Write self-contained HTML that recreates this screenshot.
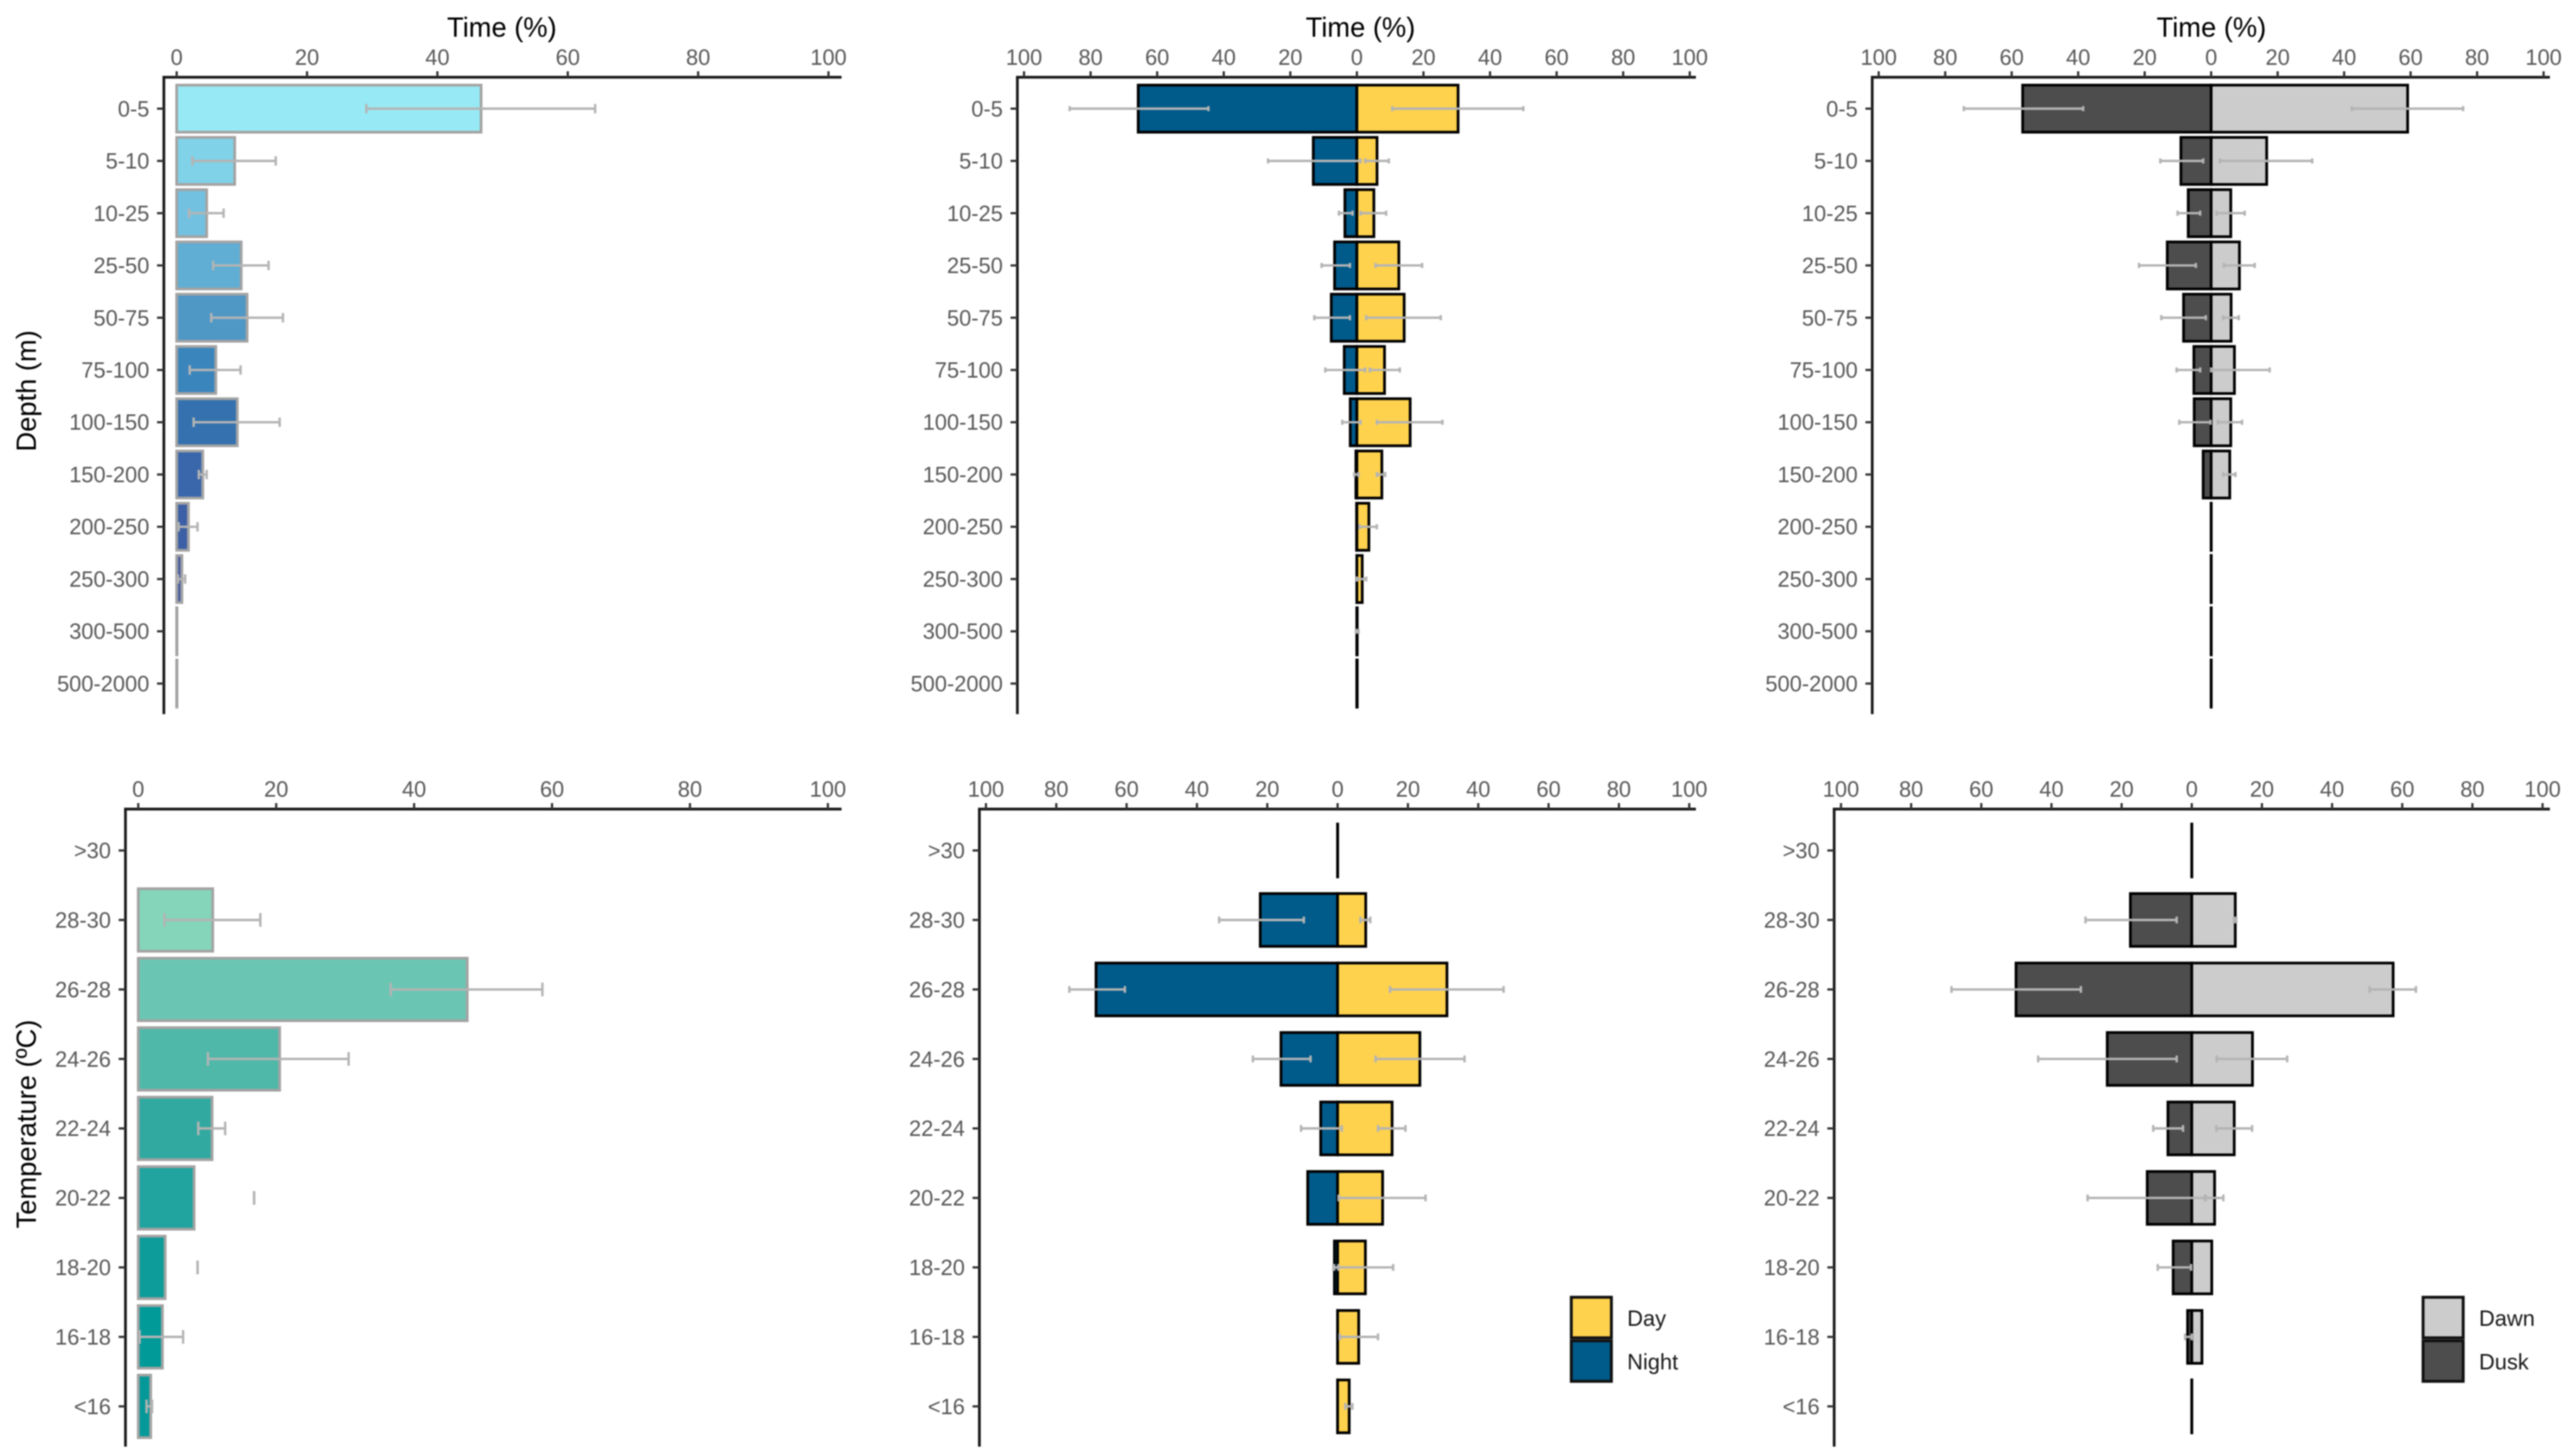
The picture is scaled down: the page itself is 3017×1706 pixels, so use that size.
<!DOCTYPE html>
<html lang="en">
<head>
<meta charset="utf-8">
<title>Time at depth and temperature</title>
<style>
  html, body { margin: 0; padding: 0; background: #ffffff; }
  #figure { display: block; width: 3017px; height: 1706px; filter: blur(0.7px); font-family: "Liberation Sans", Arial, sans-serif; }
</style>
</head>
<body>
<svg id="figure" xmlns="http://www.w3.org/2000/svg" width="3017" height="1706" viewBox="0 0 3017 1706"></svg>
<script>
// ---------- categories and tick labels ----------
const depthCategories = ['0-5','5-10','10-25','25-50','50-75','75-100','100-150','150-200','200-250','250-300','300-500','500-2000'];
const tempCategories = ['>30','28-30','26-28','24-26','22-24','20-22','18-20','16-18','<16'];
const oneSidedTicks = [0,20,40,60,80,100];
const twoSidedTicks = [-100,-80,-60,-40,-20,0,20,40,60,80,100];

// ---------- depth: overall ----------
const depthAll = [46.7,8.9,4.6,9.9,10.8,6.0,9.3,4.0,1.8,0.8,0.05,0.05];
const depthAllLow = [29.1,2.4,1.9,5.6,5.3,2.0,2.6,3.4,0.3,0.2,null,null];
const depthAllHigh = [64.2,15.2,7.2,14.1,16.3,9.8,15.8,4.6,3.2,1.3,null,null];
const depthAllColors = ['#97EAF5','#80D2E8','#73C1E0','#60AED3','#4F98C6','#3A85BC','#3471AE','#3A67AB','#3D5FA5','#4A5FA0','#A0A0A0','#A0A0A0'];

// ---------- depth: day / night ----------
const depthNight = [65.7,13.1,3.6,6.7,7.7,3.8,2.0,0.3,0.1,0,0,0];
const depthNightLow = [44.6,-1.1,1.3,2.1,2.1,-2.5,-1.1,-0.5,null,null,null,null];
const depthNightHigh = [86.3,26.7,5.4,10.6,12.8,9.5,4.4,0.8,null,null,null,null];
const depthDay = [30.4,6.05,5.1,12.6,14.2,8.3,16.0,7.5,3.6,1.6,0.1,0.1];
const depthDayLow = [10.6,2.5,1.1,5.6,2.8,3.9,6.0,6.0,0.8,0,-0.3,null];
const depthDayHigh = [50.0,9.6,8.8,19.6,25.2,12.9,25.7,8.5,6.0,2.8,0.5,null];

// ---------- depth: dawn / dusk ----------
const depthDusk = [56.7,9.1,6.9,13.2,8.3,5.2,5.1,2.4,0,0,0,0];
const depthDuskLow = [38.5,2.4,3.3,4.6,1.6,3.3,0.2,null,null,null,null,null];
const depthDuskHigh = [74.4,15.3,10.1,21.7,15.0,10.4,9.6,null,null,null,null,null];
const depthDawn = [59.1,16.7,5.9,8.5,6.0,7.0,5.9,5.6,0,0,0,0];
const depthDawnLow = [42.3,2.6,1.6,3.8,3.6,0,2.0,3.6,null,null,null,null];
const depthDawnHigh = [75.8,30.4,10.1,13.1,8.3,17.6,9.3,7.3,null,null,null,null];

// ---------- temperature: overall ----------
const tempAll = [null,10.8,47.7,20.5,10.7,8.1,3.9,3.5,1.8];
const tempAllLow = [null,3.8,36.6,10.1,8.7,16.8,8.6,0.2,1.2];
const tempAllHigh = [null,17.7,58.6,30.5,12.6,16.8,8.6,6.5,2.0];
const tempAllColors = ['#A0A0A0','#84D5BA','#6AC6B2','#4FB8A9','#31A9A0','#21A39F','#0E9C9A','#019A98','#059898'];

// ---------- temperature: day / night ----------
const tempNight = [0,22.0,68.7,16.1,4.8,8.5,0.9,0,0];
const tempNightLow = [null,9.6,60.5,7.7,-1.2,null,-0.2,null,null];
const tempNightHigh = [null,33.7,76.3,24.1,10.4,null,1.2,null,null];
const tempDay = [0,8.0,31.1,23.4,15.5,12.8,7.9,6.0,3.3];
const tempDayLow = [null,6.5,14.9,10.8,11.5,0.3,-1.0,0.6,2.2];
const tempDayHigh = [null,9.3,47.2,36.1,19.3,25.0,15.8,11.5,4.2];

// ---------- temperature: dawn / dusk ----------
const tempDusk = [0,17.5,50.1,24.1,6.8,12.7,5.3,1.2,0];
const tempDuskLow = [null,4.3,31.6,4.3,2.5,-4.0,0.2,0,null];
const tempDuskHigh = [null,30.3,68.5,43.8,11.0,29.7,9.7,1.9,null];
const tempDawn = [0,12.4,57.4,17.3,12.1,6.5,5.7,2.9,0];
const tempDawnLow = [null,12.0,50.7,7.1,7.0,3.7,null,null,null];
const tempDawnHigh = [null,12.7,63.9,27.2,17.2,9.0,null,null,null];

// ---------- series names and colours ----------
const dayColor = '#FFD24D';
const nightColor = '#005A8A';
const dawnColor = '#CCCCCC';
const duskColor = '#4D4D4D';

const svg = document.getElementById('figure');
const NS = 'http://www.w3.org/2000/svg';

function make(tag, attrs, parent, text) {
  const el = document.createElementNS(NS, tag);
  for (const k in attrs) el.setAttribute(k, attrs[k]);
  if (text !== undefined) el.textContent = text;
  (parent || svg).appendChild(el);
  return el;
}

function slug(s) {
  return s.replace('>', 'over-').replace('<', 'under-').toLowerCase();
}

function drawFrame(p) {
  const g = make('g', {});
  
  
  p.g = g;

  // scales
  p.x = function (v) { return p.zeroX + v * p.pxPerUnit; };
  p.y = function (i) { return p.firstY + i * p.stepY; };

  const top = make('line', { x1: p.axisX - 1.6, x2: p.axisEnd, y1: p.axisY, y2: p.axisY, stroke: '#1a1a1a', 'stroke-width': 3.2 }, g);
  
  

  const left = make('line', { x1: p.axisX, x2: p.axisX, y1: p.axisY, y2: p.axisBottom, stroke: '#1a1a1a', 'stroke-width': 3.2 }, g);
  
  

  p.ticks.forEach(function (t) {
    const tick = make('line', { x1: p.x(t), x2: p.x(t), y1: p.axisY - 7, y2: p.axisY, stroke: '#333333', 'stroke-width': 2.6 }, g);
    
    
    const label = make('text', { x: p.x(t), y: p.axisY - 14.5, 'text-anchor': 'middle', 'font-size': 25.6, fill: '#595959' }, g, String(Math.abs(t)));
    
    
  });

  p.categories.forEach(function (c, i) {
    const tick = make('line', { x1: p.axisX - 8, x2: p.axisX, y1: p.y(i), y2: p.y(i), stroke: '#333333', 'stroke-width': 2.6 }, g);
    
    
    const label = make('text', { x: p.axisX - 17, y: p.y(i) + 9, 'text-anchor': 'end', 'font-size': 25.6, fill: '#595959' }, g, c);
    
    
  });

  if (p.title) {
    const title = make('text', { x: p.titleX, y: 43, 'text-anchor': 'middle', 'font-size': 32, fill: '#000000' }, g, p.title);
    
    
  }
  if (p.yTitle) {
    const yTitle = make('text', { x: 0, y: 0, 'text-anchor': 'middle', 'font-size': 32, fill: '#000000', transform: 'translate(' + p.yTitleX + ',' + p.yTitleY + ') rotate(-90)' }, g, p.yTitle);
    
    
  }
}

function drawBars(p, values, sign, fills, stroke, seriesName) {
  const h = p.stepY * p.barFrac;
  values.forEach(function (v, i) {
    if (v === null) return;
    const x1 = p.x(0);
    const x2 = p.x(sign * v);
    const fill = Array.isArray(fills) ? fills[i] : fills;
    const bar = make('rect', {
      x: Math.min(x1, x2), y: p.y(i) - h / 2,
      width: Math.max(Math.abs(x2 - x1), 0.01), height: h,
      fill: fill, stroke: stroke, 'stroke-width': 3.2
    }, p.g);
    
    
  });
}

function drawErrors(p, low, high, sign, seriesName) {
  low.forEach(function (lo, i) {
    const hi = high[i];
    if (lo === null || hi === null) return;
    const xa = p.x(sign * lo);
    const xb = p.x(sign * hi);
    const y = p.y(i);
    const g = make('g', { stroke: '#B4B4B4', 'stroke-width': 2.8, fill: 'none' }, p.g);
    
    
    make('line', { x1: xa, x2: xb, y1: y, y2: y }, g);
    make('line', { x1: xa, x2: xa, y1: y - p.cap / 2, y2: y + p.cap / 2 }, g);
    make('line', { x1: xb, x2: xb, y1: y - p.cap / 2, y2: y + p.cap / 2 }, g);
  });
}

function drawLegend(p, items) {
  const g = make('g', {}, p.g);
  
  
  items.forEach(function (it, i) {
    const y = 1520 + i * 51;
    const key = make('rect', { x: p.legendX + 1, y: y, width: 47, height: 47.5, fill: it.color, stroke: '#111111', 'stroke-width': 3.4 }, g);
    
    
    const label = make('text', { x: p.legendX + 66.5, y: y + 33.4, 'font-size': 25.6, fill: '#1a1a1a' }, g, it.label);
    
    
  });
}

// ---------- panel layout ----------
const depthRow = { categories: depthCategories, firstY: 127.3, stepY: 61.24, axisY: 90.5, axisBottom: 836.7, barFrac: 0.9 };
const tempRow = { categories: tempCategories, firstY: 996.5, stepY: 81.42, axisY: 948, axisBottom: 1695, barFrac: 0.9 };

const p1 = Object.assign({}, depthRow, { name: 'depth-overall', ticks: oneSidedTicks, zeroX: 207, pxPerUnit: 7.637, axisX: 192, axisEnd: 986, cap: 11, title: 'Time (%)', titleX: 588, yTitle: 'Depth (m)', yTitleX: 42, yTitleY: 458 });
const p2 = Object.assign({}, depthRow, { name: 'depth-day-night', ticks: twoSidedTicks, zeroX: 1589.8, pxPerUnit: 3.9, axisX: 1192, axisEnd: 1987, cap: 6, title: 'Time (%)', titleX: 1594 });
const p3 = Object.assign({}, depthRow, { name: 'depth-dawn-dusk', ticks: twoSidedTicks, zeroX: 2590.7, pxPerUnit: 3.895, axisX: 2193.6, axisEnd: 2987.6, cap: 6, title: 'Time (%)', titleX: 2591 });
const p4 = Object.assign({}, tempRow, { name: 'temperature-overall', ticks: oneSidedTicks, zeroX: 162, pxPerUnit: 8.08, axisX: 147, axisEnd: 986, cap: 16, yTitle: 'Temperature (ºC)', yTitleX: 42, yTitleY: 1317 });
const p5 = Object.assign({}, tempRow, { name: 'temperature-day-night', ticks: twoSidedTicks, zeroX: 1567.2, pxPerUnit: 4.12, axisX: 1147.5, axisEnd: 1987, cap: 8, legendX: 1840, barFrac: 0.76 });
const p6 = Object.assign({}, tempRow, { name: 'temperature-dawn-dusk', ticks: twoSidedTicks, zeroX: 2568, pxPerUnit: 4.11, axisX: 2149, axisEnd: 2987.6, cap: 8, legendX: 2838, barFrac: 0.76 });

// ---------- draw panels ----------
drawFrame(p1);
drawBars(p1, depthAll, 1, depthAllColors, '#A3A3A3', 'time');
drawErrors(p1, depthAllLow, depthAllHigh, 1, 'time');

drawFrame(p2);
drawBars(p2, depthNight, -1, nightColor, '#000000', 'night');
drawBars(p2, depthDay, 1, dayColor, '#000000', 'day');
drawErrors(p2, depthNightLow, depthNightHigh, -1, 'night');
drawErrors(p2, depthDayLow, depthDayHigh, 1, 'day');

drawFrame(p3);
drawBars(p3, depthDusk, -1, duskColor, '#000000', 'dusk');
drawBars(p3, depthDawn, 1, dawnColor, '#000000', 'dawn');
drawErrors(p3, depthDuskLow, depthDuskHigh, -1, 'dusk');
drawErrors(p3, depthDawnLow, depthDawnHigh, 1, 'dawn');

drawFrame(p4);
drawBars(p4, tempAll, 1, tempAllColors, '#A3A3A3', 'time');
drawErrors(p4, tempAllLow, tempAllHigh, 1, 'time');

drawFrame(p5);
drawBars(p5, tempNight, -1, nightColor, '#000000', 'night');
drawBars(p5, tempDay, 1, dayColor, '#000000', 'day');
drawErrors(p5, tempNightLow, tempNightHigh, -1, 'night');
drawErrors(p5, tempDayLow, tempDayHigh, 1, 'day');
drawLegend(p5, [{ label: 'Day', color: dayColor }, { label: 'Night', color: nightColor }]);

drawFrame(p6);
drawBars(p6, tempDusk, -1, duskColor, '#000000', 'dusk');
drawBars(p6, tempDawn, 1, dawnColor, '#000000', 'dawn');
drawErrors(p6, tempDuskLow, tempDuskHigh, -1, 'dusk');
drawErrors(p6, tempDawnLow, tempDawnHigh, 1, 'dawn');
drawLegend(p6, [{ label: 'Dawn', color: dawnColor }, { label: 'Dusk', color: duskColor }]);
</script>
</body>
</html>
